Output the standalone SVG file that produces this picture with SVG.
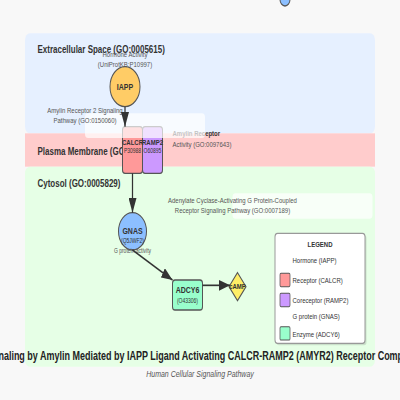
<svg xmlns="http://www.w3.org/2000/svg" width="400" height="400" viewBox="0 0 400 400">
<defs>
<style>
text{font-family:"Liberation Sans",Arial,sans-serif}
.comp-label{font-size:16px;font-weight:bold;fill:#333}
.node{stroke:#555;stroke-width:2}
.nlabel{font-size:14px;font-weight:bold;fill:#333;text-anchor:middle}
.rlabel{font-size:12px;font-weight:bold;fill:#333;text-anchor:middle}
.nid{font-size:10px;fill:#333;text-anchor:middle}
.fn{font-size:12px;fill:#555}
.fn-small{font-size:10px;fill:#555;text-anchor:middle}
.pw{font-size:12px;fill:#555;text-anchor:middle}
.pwbg{fill:#fff;fill-opacity:0.7}
.edge{stroke:#333;stroke-width:2.5;fill:none;marker-end:url(#arrow)}
.leg{font-size:12px;fill:#333}
</style>
<marker id="arrow" markerUnits="userSpaceOnUse" markerWidth="22" markerHeight="16" viewBox="0 0 22 16" refX="22" refY="8" orient="auto">
<path d="M0,0 L22,8 L0,16 Z" fill="#333"/>
</marker>
</defs>
<rect x="0" y="0" width="400" height="400" fill="#f8f8f8"/>
<g transform="scale(0.5 0.6666667)">
<g id="compartments">
<rect x="50" y="50" width="700" height="150" rx="10" fill="#e6f0ff"/>
<rect x="50" y="200" width="700" height="50" fill="#ffcccc"/>
<rect x="50" y="250" width="700" height="300" rx="10" fill="#e6ffe6"/>
<text class="comp-label" x="75" y="80">Extracellular Space (GO:0005615)</text>
<text class="comp-label" x="75" y="232">Plasma Membrane (GO:0005886)</text>
<text class="comp-label" x="75" y="280">Cytosol (GO:0005829)</text>
</g>
<g id="IAPP">
<circle class="node" cx="250" cy="130" r="30" fill="#ffcc66"/>
<text class="nlabel" x="250" y="135">IAPP</text>
<text class="fn" x="250" y="85" text-anchor="middle">Hormone Activity</text>
<text class="fn" x="250" y="100" text-anchor="middle">(UniProtKB:P10997)</text>
</g>
<g id="CALCR">
<rect class="node" x="245" y="190" width="40" height="70" rx="5" fill="#ff9999"/>
<text class="rlabel" x="265" y="217">CALCR</text>
<text class="nid" x="265" y="230">P30988</text>
</g>
<g id="RAMP2">
<rect class="node" x="285" y="190" width="40" height="70" rx="5" fill="#cc99ff"/>
<text class="rlabel" x="305" y="217">RAMP2</text>
<text class="nid" x="305" y="230">O60895</text>
</g>
<g id="receptor-activity">
<text x="345" y="204" font-size="12" font-weight="bold" fill="#333">Amylin Receptor</text>
<text class="fn" x="345" y="220">Activity (GO:0097643)</text>
</g>
<g id="GNAS">
<circle class="node" cx="265" cy="347" r="28" fill="#8cbfff"/>
<text class="nlabel" x="265" y="351">GNAS</text>
<text class="nid" x="265" y="364">(Q5JWF2)</text>
<text class="fn-small" x="265" y="379">G protein activity</text>
</g>
<g id="ADCY6">
<rect class="node" x="345" y="420" width="60" height="45" rx="5" fill="#99ffcc"/>
<text class="nlabel" x="375" y="440">ADCY6</text>
<text class="nid" x="375" y="454">(O43306)</text>
</g>
<g id="cAMP">
<polygon class="node" points="475,409 492,430 475,451 458,430" fill="#ffee66"/>
<text class="rlabel" x="475" y="434">cAMP</text>
</g>
<g id="pathway-labels">
<rect class="pwbg" x="170" y="170" width="240" height="37" rx="6"/>
<text class="pw" x="170" y="169">Amylin Receptor 2 Signaling</text>
<text class="pw" x="170" y="184">Pathway (GO:0150060)</text>
<rect class="pwbg" x="465" y="290" width="280" height="38" rx="6"/>
<text class="pw" x="465" y="305">Adenylate Cyclase-Activating G Protein-Coupled</text>
<text class="pw" x="465" y="320">Receptor Signaling Pathway (GO:0007189)</text>
</g>
<g id="connectors">
<line class="edge" x1="250" y1="160" x2="250" y2="190"/>
<line class="edge" x1="265" y1="260" x2="265" y2="319"/>
<line class="edge" x1="265" y1="375" x2="345" y2="420"/>
<line class="edge" x1="405" y1="428" x2="460" y2="428"/>
</g>
<g id="legend">
<rect x="553" y="353" width="180" height="165" rx="5" fill="#000" fill-opacity="0.12"/>
<rect x="550" y="350" width="180" height="165" rx="5" fill="#fff" stroke="#999" stroke-width="2"/>
<text x="640" y="370" font-size="12" font-weight="bold" fill="#333" text-anchor="middle">LEGEND</text>
<circle cx="570" cy="-1" r="10" fill="#8cbfff" stroke="#555" stroke-width="2"/>
<text class="leg" x="585" y="395">Hormone (IAPP)</text>
<rect x="560" y="410" width="20" height="20" rx="2" fill="#ff9999" stroke="#555" stroke-width="1.5"/>
<text class="leg" x="585" y="424">Receptor (CALCR)</text>
<rect x="560" y="440" width="20" height="20" rx="2" fill="#cc99ff" stroke="#555" stroke-width="1.5"/>
<text class="leg" x="585" y="454">Coreceptor (RAMP2)</text>
<text class="leg" x="585" y="479">G protein (GNAS)</text>
<rect x="560" y="490" width="20" height="20" rx="2" fill="#99ffcc" stroke="#555" stroke-width="1.5"/>
<text class="leg" x="585" y="505">Enzyme (ADCY6)</text>
</g>
<g id="title">
<text x="400" y="540" font-size="18" font-weight="bold" fill="#222" text-anchor="middle">Signaling by Amylin Mediated by IAPP Ligand Activating CALCR-RAMP2 (AMYR2) Receptor Complex</text>
<text x="400" y="565" font-size="14" font-style="italic" fill="#555" text-anchor="middle">Human Cellular Signaling Pathway</text>
</g>
</g>
</svg>
